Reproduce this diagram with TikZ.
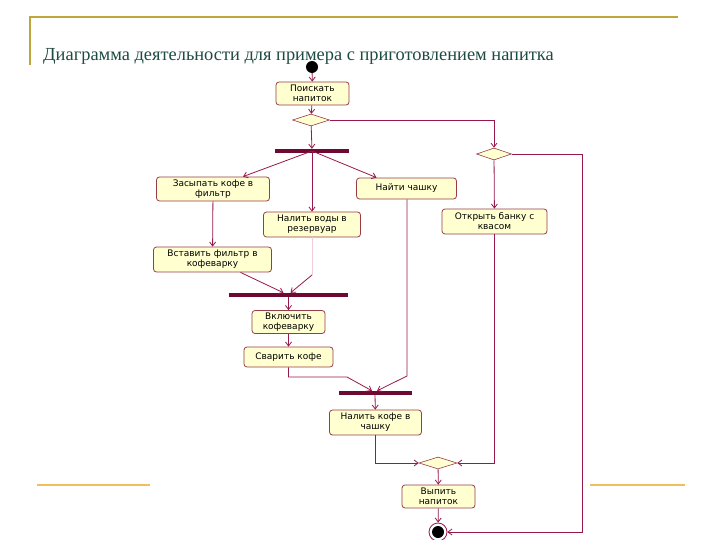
\documentclass[tikz,border=0pt]{standalone}
\usepackage{fontspec}
\setmainfont{Liberation Serif}
\newfontfamily\boxfont{DejaVu Sans}
\usetikzlibrary{shapes.geometric, arrows.meta, positioning, calc}
\definecolor{umlline}{RGB}{150,25,75}
\definecolor{umlbar}{RGB}{110,10,50}
\definecolor{boxfill}{RGB}{255,255,208}
\definecolor{boxedge}{RGB}{150,60,75}
\definecolor{paleline}{RGB}{240,205,215}
\definecolor{titlecol}{RGB}{30,75,65}
\definecolor{frameline}{RGB}{190,165,60}
\definecolor{rulecol}{RGB}{240,190,90}

\begin{document}
\begin{tikzpicture}[
	x=1pt, y=-1pt,
	every node/.style={font=\boxfont\fontsize{9}{10}\selectfont},
	activity/.style={rectangle, draw=boxedge, line width=0.8pt, fill=boxfill, rounded corners=3pt, align=center, inner sep=1pt},
	decision/.style={diamond, draw=boxedge, line width=0.6pt, fill=boxfill, aspect=3, inner sep=0pt, minimum width=37pt, minimum height=12pt},
	bar/.style={rectangle, fill=umlbar, inner sep=0pt, minimum height=4pt},
	startnode/.style={circle, fill=black, inner sep=0pt, minimum size=12pt},
	endnode/.style={circle, draw=umlline, thick, inner sep=0pt, minimum size=18pt,
		path picture={\fill[black] (path picture bounding box.center) circle (6pt);}},
	arrow/.style={draw=umlline, line width=0.8pt, -{Straight Barb[length=4pt, width=6pt]}},
	flow/.style={draw=umlline, line width=0.8pt}
]
\useasboundingbox (0,0) rectangle (720,540);

% Frame of the slide
\draw[frameline, line width=2pt] (30,65) -- (30,17) -- (678,17);
\draw[rulecol, line width=2.5pt] (37,485) -- (150,485);
\draw[rulecol, line width=2.5pt] (590,485) -- (685,485);

% Title
\node[anchor=base west, inner sep=0pt, text=titlecol, font=\fontsize{18.4}{21}\selectfont] (title) at (43,61)
	{Диаграмма деятельности для примера с приготовлением напитка};

% Nodes of the main branch
\node[startnode] (start) at (312,67) {};
\node[activity, minimum width=73pt, minimum height=23pt] (poisk) at (312.5,93.5) {Поискать\\ напиток};
\node[decision] (dec1) at (311,120) {};
\node[bar, minimum width=74pt] (fork1) at (312,151) {};
\node[activity, minimum width=113pt, minimum height=24pt] (zasyp) at (213,189) {Засыпать кофе в\\ фильтр};
\node[activity, minimum width=100pt, minimum height=21pt] (naiti) at (406.5,188.5) {Найти чашку};
\node[activity, minimum width=97pt, minimum height=25pt] (nalitvody) at (312,224.5) {Налить воды в\\ резервуар};
\node[activity, minimum width=118pt, minimum height=25pt] (vstavit) at (212.5,259.5) {Вставить фильтр в\\ кофеварку};
\node[bar, minimum width=119pt] (join2) at (288.5,295) {};
\node[activity, minimum width=73pt, minimum height=23pt] (vkl) at (288.5,322) {Включить\\ кофеварку};
\node[activity, minimum width=89pt, minimum height=20pt] (svarit) at (288.5,357) {Сварить кофе};
\node[bar, minimum width=73pt] (join3) at (375,393) {};
\node[activity, minimum width=92pt, minimum height=25pt] (nalitkofe) at (375.5,422.5) {Налить кофе в\\ чашку};

% Nodes of the kvass branch
\node[decision, minimum width=35pt] (dec2) at (494,154) {};
\node[activity, minimum width=105pt, minimum height=25pt] (otkryt) at (494.5,221.5) {Открыть банку с\\ квасом};
\node[decision, minimum width=38pt] (dec3) at (438,463) {};
\node[activity, minimum width=73pt, minimum height=23pt] (vypit) at (438.5,496.5) {Выпить\\ напиток};
\node[endnode] (final) at (438,532) {};

% Bend points
\coordinate (topbend) at (494,120);
\coordinate (rightbend) at (582,154);
\coordinate (vodybend) at (312,275);
\coordinate (svaritbend) at (347,377);
\coordinate (naitibend) at (407,376);

% Connectors
\draw[arrow] (start) -- (poisk);
\draw[arrow] (poisk) -- (dec1);
\draw[arrow] (dec1) -- (fork1);
\draw[arrow] (dec1.east) -- (topbend) -- (dec2.north);
\draw[arrow] (fork1.center) -- ([xshift=30pt]zasyp.north);
\draw[arrow] (fork1.center) -- (nalitvody.north);
\draw[arrow] (fork1.center) -- ([xshift=-30pt]naiti.north);
\draw[arrow] (zasyp) -- (vstavit);
\draw[arrow] ([xshift=28pt]vstavit.south) -- ([xshift=-5pt]join2.north);
\draw[paleline] (nalitvody.south) -- (vodybend);
\draw[arrow] (vodybend) -- ([xshift=2pt]join2.north);
\draw[arrow] (join2) -- (vkl);
\draw[arrow] (vkl) -- (svarit);
\draw[arrow] (svarit.south) -- (svaritbend -| svarit.south) -- (svaritbend) -- ([xshift=-3pt]join3.north);
\draw[arrow] ([xshift=0.5pt]naiti.south) -- (naitibend) -- ([xshift=2pt]join3.north);
\draw[arrow] (join3) -- (nalitkofe);
\draw[arrow] (dec2) -- (otkryt);
\draw[arrow] (dec2.east) -- (rightbend) |- (final.east);
\draw[arrow] (otkryt.south) |- (dec3.east);
\draw[arrow] (nalitkofe.south) |- (dec3.west);
\draw[arrow] (dec3) -- (vypit);
\draw[arrow] (vypit) -- (final);

\end{tikzpicture}
\end{document}
